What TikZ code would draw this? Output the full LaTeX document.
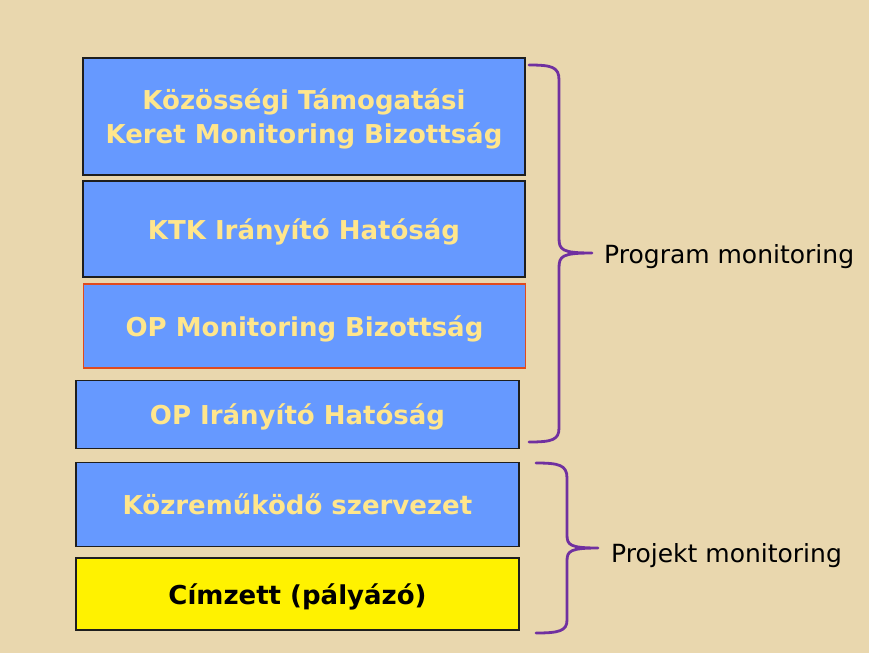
\documentclass[tikz,border=0pt]{standalone}
\usepackage{fontspec}
\setmainfont{DejaVu Sans}
\definecolor{parch}{HTML}{E9D7AE}
\definecolor{boxblue}{HTML}{6699FF}
\definecolor{boxtext}{HTML}{FFE68C}
\definecolor{bracecol}{HTML}{7030A0}
\definecolor{redline}{HTML}{E04A1E}
\definecolor{edge}{HTML}{1E1E1E}
\tikzset{
  blk/.style={draw=edge, line width=1.2pt, fill=boxblue, inner sep=0pt, align=center,
    text depth=0pt, text=boxtext, font=\fontsize{26}{34}\selectfont\bfseries},
  brc/.style={draw=bracecol, line width=2.8pt, line cap=round, line join=round},
  lbl/.style={anchor=base west, inner sep=0pt, font=\fontsize{25}{30}\selectfont}
}
\begin{document}
\begin{tikzpicture}[x=1pt,y=-1pt]
\useasboundingbox (0,0) rectangle (869,653);
\fill[parch] (0,0) rectangle (869,653);

\node[blk, minimum width=442pt, minimum height=117pt] (kt) at (304,116.5) {Közösségi Támogatási\\Keret Monitoring Bizottság};
\node[blk, minimum width=442pt, minimum height=96pt] (ktk) at (304,229) {KTK Irányító Hatóság};
\node[blk, draw=redline, minimum width=442pt, minimum height=84pt] (opmb) at (304.5,326) {OP Monitoring Bizottság};
\node[blk, minimum width=443pt, minimum height=68pt] (opih) at (297.5,414.5) {OP Irányító Hatóság};
\node[blk, minimum width=443pt, minimum height=84pt] (kozr) at (297.5,504.5) {Közreműködő szervezet};
\node[blk, fill=yellow, text=black, minimum width=443pt, minimum height=72pt] (cimz) at (297.5,594) {Címzett (pályázó)};

% brace 1
\coordinate (b1t) at (529,65);
\coordinate (b1m) at (592,253);
\coordinate (b1b) at (529,442);
\draw[brc] (b1t) .. controls (552,65) and (559,67) .. (559,80) -- (559,238)
  .. controls (559,250) and (562,253) .. (b1m)
  .. controls (562,253) and (559,256) .. (559,268) -- (559,428)
  .. controls (559,440) and (552,442) .. (b1b);
% brace 2
\coordinate (b2t) at (536,463);
\coordinate (b2m) at (598,548);
\coordinate (b2b) at (536,633);
\draw[brc] (b2t) .. controls (559,463) and (567,465) .. (567,478) -- (567,535)
  .. controls (567,545) and (570,548) .. (b2m)
  .. controls (570,548) and (567,551) .. (567,561) -- (567,620)
  .. controls (567,631) and (559,633) .. (b2b);

\node[lbl] (pm) at (604,263) {Program monitoring};
\node[lbl] (prm) at (611,562) {Projekt monitoring};
\end{tikzpicture}
\end{document}
